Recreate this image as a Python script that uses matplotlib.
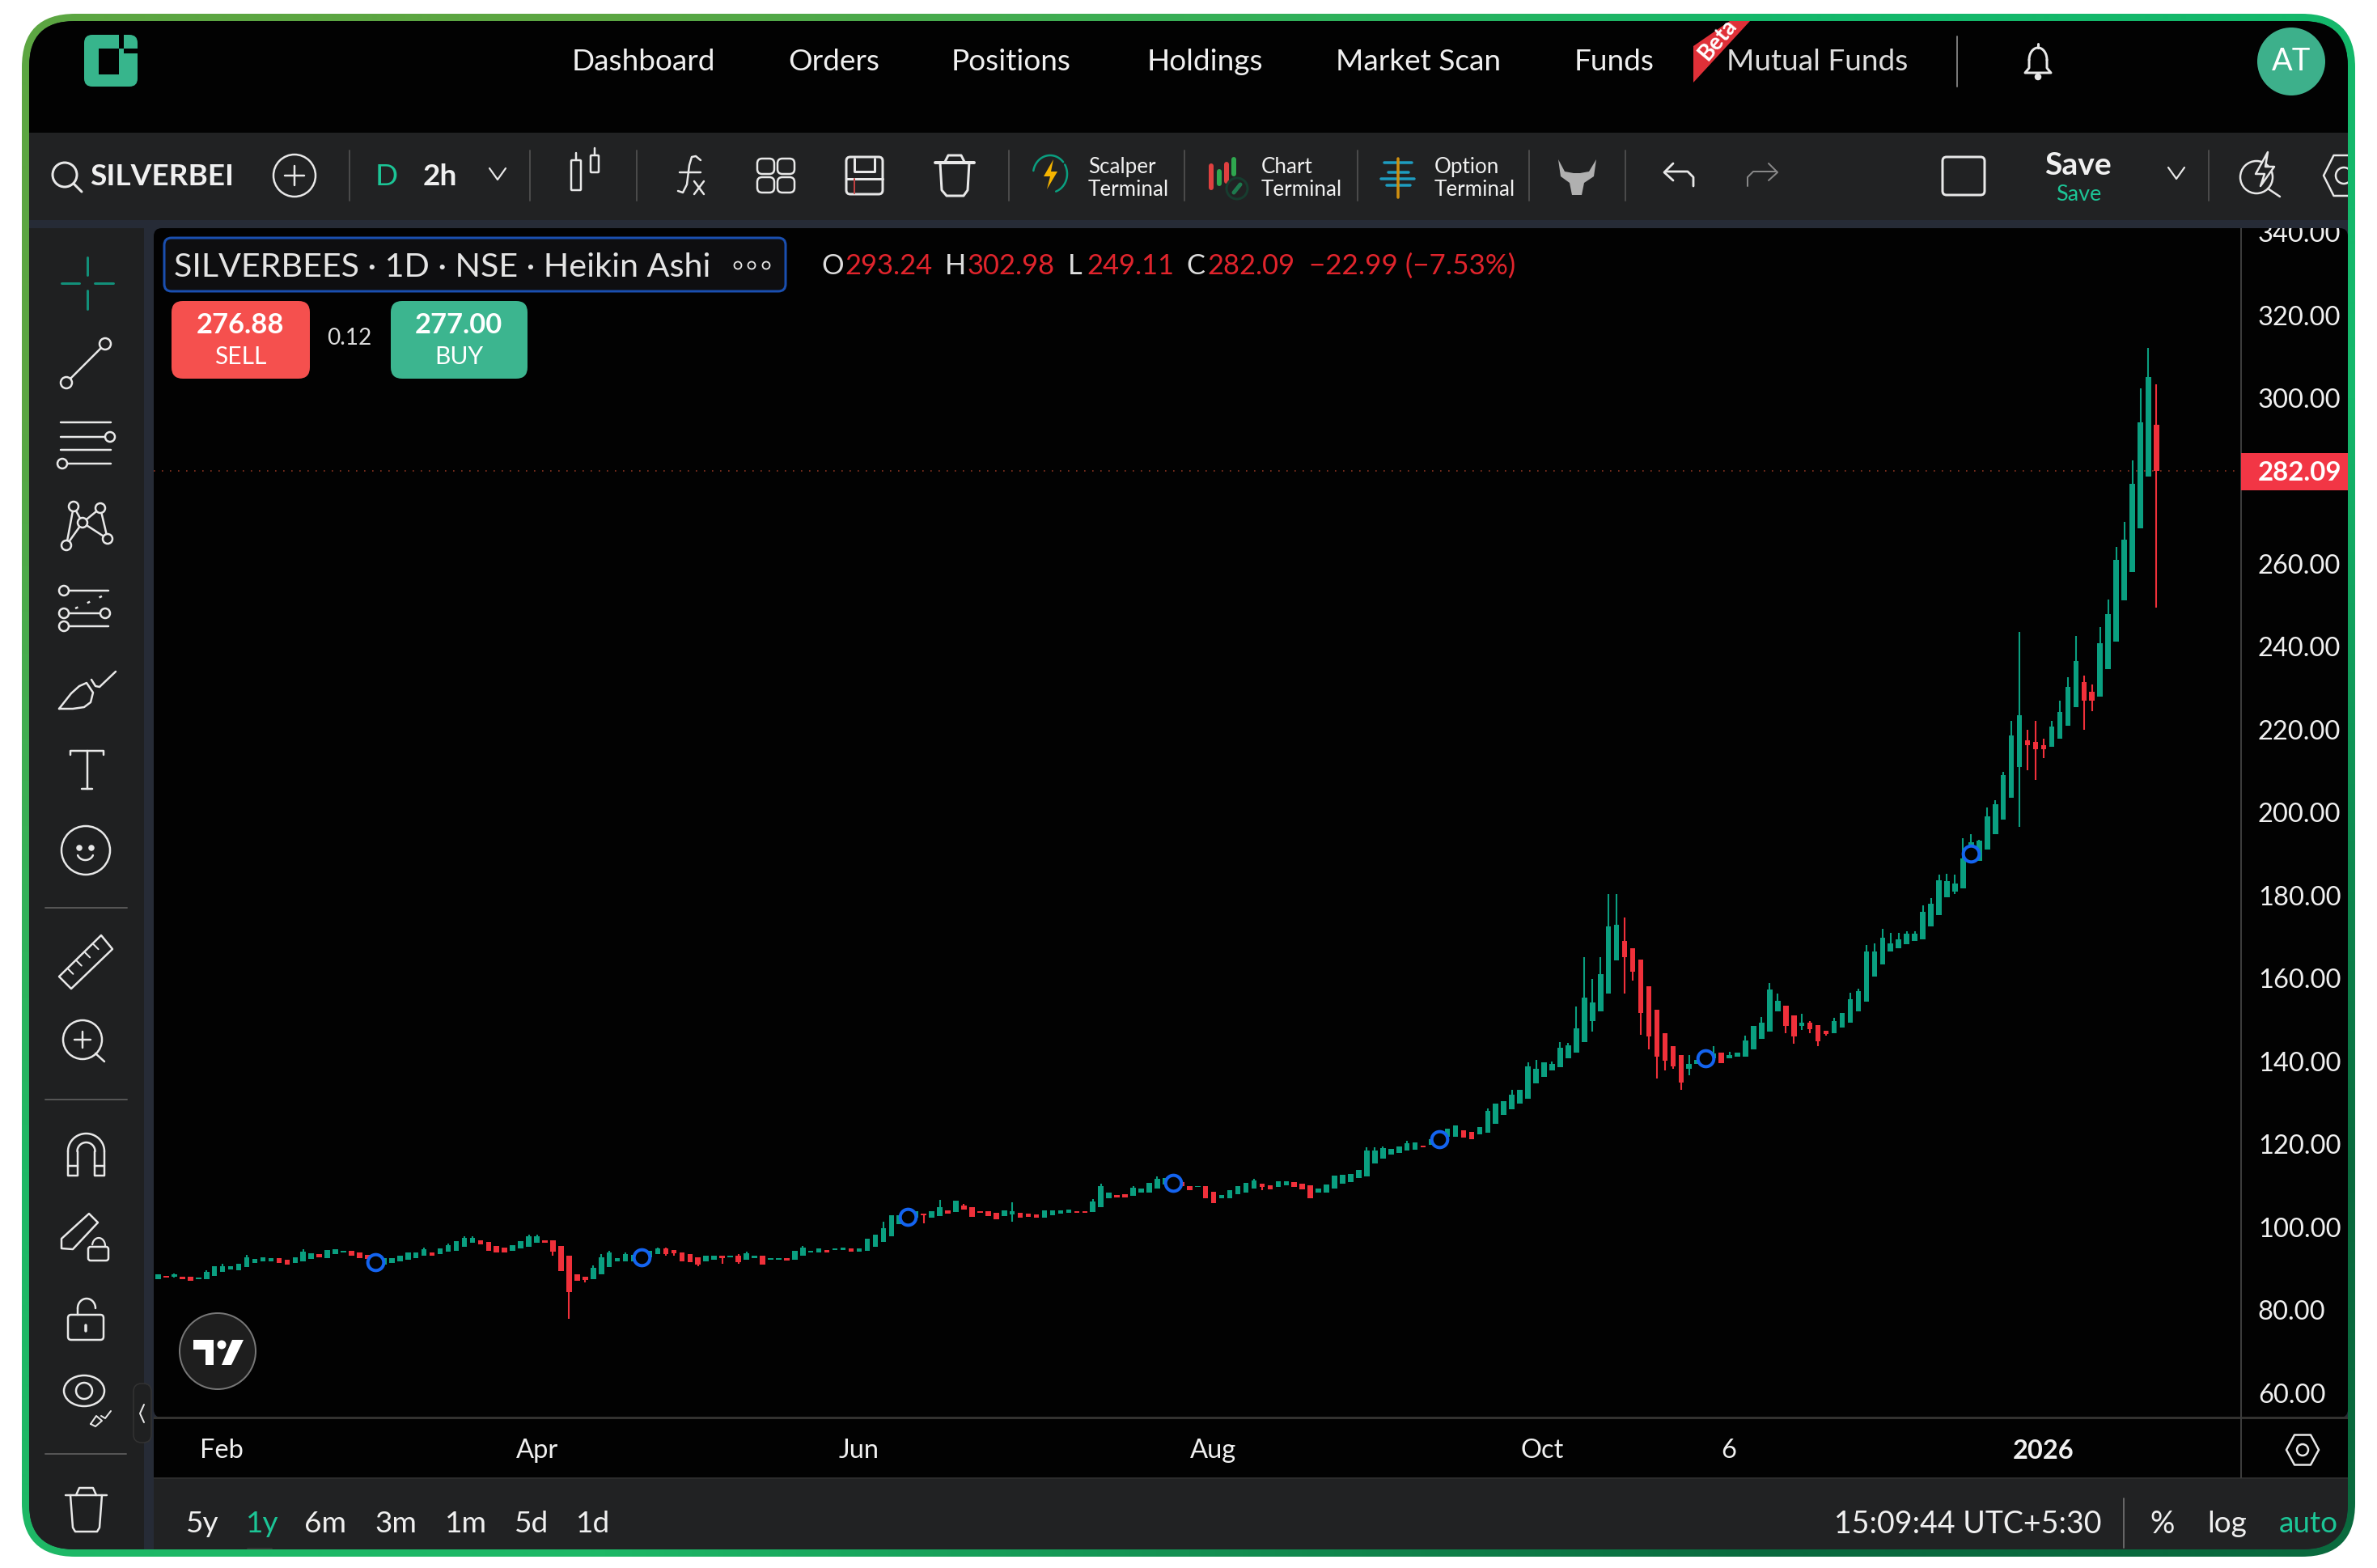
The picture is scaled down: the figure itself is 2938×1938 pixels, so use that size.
#!/usr/bin/env python3
# -*- coding: utf-8 -*-
import numpy as np
import matplotlib
matplotlib.use("Agg")
import matplotlib.pyplot as plt
from matplotlib.patches import FancyBboxPatch, Rectangle, Polygon, Circle, Ellipse
from matplotlib.transforms import ScaledTranslation

plt.rcParams['font.family'] = ['Lato', 'DejaVu Sans']

W, H = 2938, 1938

# daily heikin ashi candles
opens = [
    87.1,88.0,87.8,87.8,87.8,87.1,87.1,88.0,88.9,89.4,
    89.3,90.1,91.0,91.4,91.4,92.2,91.9,91.0,91.4,92.0,
    93.2,92.3,93.2,93.6,93.9,93.5,93.0,92.5,90.6,91.1,
    91.4,91.9,92.3,92.7,93.5,93.2,93.7,94.0,94.9,95.9,
    96.5,96.2,95.2,94.8,94.0,94.5,94.9,95.9,96.5,96.6,
    95.2,92.7,88.3,87.8,87.1,88.4,90.1,91.4,91.4,91.5,
    92.0,92.5,93.2,94.5,94.1,93.5,93.2,92.4,91.4,91.9,
    92.7,92.4,92.8,91.9,92.3,92.7,91.9,91.9,92.2,91.9,
    92.8,93.6,93.6,94.1,94.1,94.1,94.5,93.8,94.0,94.9,
    96.2,97.5,100.5,101.0,102.0,102.9,102.0,102.3,103.8,103.3,
    104.9,104.6,103.6,103.6,103.1,102.3,102.8,103.1,102.9,102.7,
    102.0,102.5,102.9,103.1,103.6,103.6,103.3,104.6,106.7,107.5,
    107.7,107.2,108.0,108.0,108.9,110.0,110.0,110.5,109.6,109.4,
    109.6,108.3,106.7,106.7,107.6,108.0,108.9,110.1,109.8,109.3,
    109.8,110.6,110.2,109.8,108.0,108.0,108.9,110.2,110.6,111.5,
    111.9,115.0,116.3,117.1,117.6,118.1,118.4,119.3,119.5,120.0,
    121.5,121.5,123.1,122.6,122.1,122.5,124.6,126.8,128.1,129.4,
    130.7,134.3,136.0,137.4,138.2,140.4,141.7,144.3,149.5,151.7,
    156.1,164.0,168.7,166.9,164.3,157.8,152.1,146.4,143.3,141.2,
    137.8,139.0,139.5,140.5,141.7,140.5,140.8,140.8,142.6,145.2,
    146.9,151.7,153.2,150.8,148.2,149.1,148.5,147.1,146.5,147.8,
    149.1,151.7,154.0,160.1,163.1,166.1,167.0,167.9,168.7,169.2,
    172.2,175.0,179.3,180.7,181.5,188.0,188.0,190.7,194.5,198.0,
    203.2,210.7,217.1,216.7,215.9,215.5,217.5,220.7,225.1,231.1,
    228.9,227.7,234.3,240.9,250.9,257.8,268.3,280.8,293.24,
]
highs = [
    88.3,88.0,88.5,87.8,87.8,87.6,89.3,90.2,90.9,90.2,
    90.9,93.0,92.0,92.4,92.3,92.2,91.9,92.4,94.3,93.3,
    93.2,94.1,94.3,93.9,93.9,93.5,93.0,92.5,92.2,92.2,
    92.8,93.5,93.6,94.7,93.5,94.5,95.8,96.3,97.4,97.5,
    96.5,96.2,95.2,94.8,95.4,96.3,97.9,97.9,96.5,96.6,
    95.2,92.7,88.3,87.8,90.4,93.2,93.9,92.3,93.5,93.0,
    93.5,94.0,94.8,94.8,94.1,93.5,93.2,92.4,92.8,92.8,
    92.7,92.8,93.2,93.8,92.8,92.7,92.3,92.3,92.2,94.0,
    95.1,94.0,94.5,94.1,94.6,94.7,94.5,94.6,96.8,97.9,
    101.0,102.5,102.5,103.0,103.5,102.9,103.5,106.2,103.8,106.0,
    105.2,104.6,103.6,103.6,103.1,103.8,105.7,103.1,102.9,102.7,
    103.8,103.8,103.8,103.9,103.6,103.6,106.5,110.1,108.1,107.5,
    107.7,109.6,109.0,110.3,111.9,111.5,111.5,110.5,109.6,109.6,
    109.6,108.3,107.5,108.6,109.6,110.3,111.3,110.1,109.8,110.8,
    110.8,110.6,110.2,109.8,109.0,109.9,112.1,112.4,112.6,113.4,
    118.9,118.9,119.2,118.6,119.2,120.5,120.2,119.3,121.0,122.0,
    123.4,124.3,123.1,122.6,123.8,128.3,129.4,130.0,132.9,132.9,
    139.4,140.0,139.4,139.7,144.3,144.1,153.0,164.8,159.6,164.8,
    180.1,180.1,174.3,166.9,164.3,157.8,152.1,146.4,143.3,141.2,
    141.2,140.0,141.0,143.3,141.7,142.0,141.7,145.9,148.3,150.3,
    158.6,156.0,153.2,150.8,151.1,149.5,148.5,147.1,150.1,151.4,
    156.3,157.3,167.7,168.1,171.6,170.7,170.7,171.1,171.1,177.4,
    179.1,184.7,185.0,184.7,193.5,194.4,193.1,200.9,202.6,209.6,
    221.9,243.2,219.6,221.9,217.5,221.9,226.8,232.4,242.4,232.7,
    230.7,244.4,251.1,263.7,269.9,284.6,302.1,311.8,302.98,
]
lows = [
    87.1,87.5,87.5,87.1,86.7,87.1,87.1,88.0,88.9,89.4,
    89.3,90.1,91.0,91.4,91.4,91.0,90.6,91.0,91.4,92.0,
    92.5,92.3,93.2,93.6,92.8,92.3,92.0,90.6,90.6,91.1,
    91.4,91.9,92.3,92.7,92.8,93.2,93.7,94.0,94.9,95.9,
    95.6,94.0,93.6,93.6,94.0,94.5,94.9,95.9,96.0,92.8,
    89.1,77.6,86.7,86.3,87.1,88.4,90.1,91.4,91.4,91.5,
    92.0,92.5,93.2,92.8,92.8,91.5,91.2,90.2,91.4,91.9,
    90.9,92.4,90.8,91.9,92.3,90.6,91.9,91.9,91.7,91.9,
    92.8,93.6,93.6,93.6,94.1,94.1,93.8,93.8,94.0,94.9,
    96.2,97.5,100.5,101.0,102.0,100.7,102.0,102.3,102.9,103.3,
    103.9,102.2,103.2,102.3,101.5,102.3,101.0,102.0,102.1,102.0,
    102.0,102.5,102.9,103.1,103.2,103.1,103.3,104.6,106.7,106.9,
    106.9,107.2,108.0,108.0,108.9,110.0,110.0,109.5,108.7,109.4,
    106.7,105.4,106.7,106.7,107.6,108.0,108.9,108.6,108.8,109.3,
    109.8,109.3,108.8,106.7,108.0,108.0,108.9,110.2,110.6,111.5,
    111.9,115.0,116.3,117.1,117.6,118.1,118.4,119.0,119.5,120.0,
    121.5,121.5,121.3,121.0,122.1,122.5,124.6,126.8,128.1,129.4,
    130.7,134.3,136.0,137.4,138.2,140.4,141.7,144.3,146.9,151.7,
    156.1,164.0,156.1,159.2,146.0,142.6,135.6,137.4,137.9,132.9,
    136.4,139.0,139.5,140.5,139.2,140.5,140.8,140.8,142.6,145.2,
    146.9,151.7,146.5,143.9,147.3,146.4,143.4,145.8,146.5,147.8,
    149.1,151.7,154.0,160.1,163.1,166.1,167.0,167.9,168.7,169.2,
    172.2,175.0,179.3,180.0,181.5,188.0,188.0,190.7,194.5,198.0,
    203.2,196.3,209.9,207.6,212.9,215.5,217.5,220.7,225.1,219.7,
    224.2,227.7,234.3,240.9,250.9,257.8,268.3,280.8,249.11,
]
closes = [
    88.3,87.5,88.3,87.1,86.7,87.6,88.9,90.2,90.2,90.2,
    90.9,92.5,92.0,92.4,92.3,91.0,90.6,92.4,93.8,93.3,
    92.5,94.1,94.3,93.9,92.8,92.3,92.0,90.6,92.2,92.2,
    92.8,93.5,93.6,94.3,92.8,94.5,95.3,96.3,97.1,97.1,
    95.6,94.0,93.6,93.6,95.4,96.3,97.4,97.4,96.0,93.7,
    89.1,84.1,86.7,87.0,89.9,92.5,93.5,92.3,93.2,93.0,
    93.5,94.0,94.5,93.2,93.4,91.5,91.2,90.6,92.8,92.8,
    92.2,92.8,91.2,93.4,92.8,90.6,92.3,92.3,91.7,94.0,
    94.8,94.0,94.5,93.6,94.6,94.7,93.8,94.6,96.8,97.9,
    99.4,102.5,102.5,103.0,103.5,102.6,103.5,104.6,102.9,106.0,
    103.9,102.2,103.2,102.3,101.5,103.8,103.6,102.0,102.1,102.0,
    103.8,103.8,103.8,103.9,103.2,103.1,105.9,109.6,108.1,106.9,
    106.9,109.1,109.0,110.3,111.4,111.5,111.5,109.5,108.7,109.6,
    106.7,105.4,107.5,108.6,109.6,110.3,110.9,109.4,108.8,110.8,
    110.8,109.3,108.8,106.7,109.0,109.9,112.1,112.4,112.6,113.4,
    118.2,118.2,118.7,118.6,119.2,119.9,120.2,119.0,121.0,122.0,
    123.4,124.3,121.3,121.0,123.8,127.7,129.4,130.0,131.6,132.9,
    138.4,137.8,139.4,139.1,143.0,143.5,147.7,155.1,153.8,160.7,
    172.2,172.6,164.8,161.3,151.3,145.6,140.8,139.8,138.4,134.6,
    139.0,140.0,141.0,141.5,139.2,141.2,141.7,144.7,148.3,149.1,
    157.0,154.3,148.2,145.6,149.0,147.5,144.6,146.2,149.5,151.4,
    154.7,156.6,166.1,166.1,169.5,168.2,169.1,170.5,170.5,175.7,
    177.8,183.3,183.1,182.6,188.7,192.5,193.0,198.7,201.8,208.8,
    218.4,223.1,215.9,214.9,215.0,220.5,224.0,230.1,236.2,226.7,
    226.7,240.6,247.6,260.7,265.5,279.0,293.9,304.8,282.09,
]

marker_idx = [27, 60, 93, 126, 159, 192, 225]
marker_price = [91.2, 92.5, 102.2, 110.4, 121.0, 140.5, 189.8]

price_ticks = list(range(60, 341, 20))
time_ticks = [7.9, 47, 87, 130.9, 171.8, 194.9, 234]
time_labels = ["Feb", "Apr", "Jun", "Aug", "Oct", "6", "2026"]
last_close = 282.09

GREEN = "#0A9F80"
RED = "#F0303A"
PANEL = "#212223"
STRIP = "#262B36"
TXT = "#F0F0F0"
ICON = "#E8E8E8"
SEP = "#4A4A4A"

fig = plt.figure(figsize=(W / 100, H / 100), dpi=100, facecolor="white")


def px_axes(zorder):
    a = fig.add_axes([0, 0, 1, 1], zorder=zorder)
    a.set_xlim(0, W)
    a.set_ylim(H, 0)
    a.axis("off")
    return a


bg = px_axes(0)
top = px_axes(2)

# green gradient frame
corners = np.array([[[0x5C, 0xA6, 0x42], [0x14, 0xB8, 0x6B]],
                    [[0x1E, 0xB8, 0x66], [0x0A, 0x6A, 0x3E]]]) / 255
img = bg.imshow(corners, extent=(27, 2911, 1924, 17), interpolation="bilinear", aspect="auto", zorder=1)
outer = FancyBboxPatch((27, 17), 2884, 1907, boxstyle="round,pad=0,rounding_size=66", fc="none", ec="none", transform=bg.transData)
bg.add_patch(outer)
img.set_clip_path(outer)
bg.set_xlim(0, W)
bg.set_ylim(H, 0)

inner_bg = FancyBboxPatch((36, 26), 2866, 1889, boxstyle="round,pad=0,rounding_size=56", fc=STRIP, ec="none", zorder=2)
bg.add_patch(inner_bg)
inner_top = FancyBboxPatch((36, 26), 2866, 1889, boxstyle="round,pad=0,rounding_size=56", fc="none", ec="none")
top.add_patch(inner_top)


def panel(a, clip, x0, y0, x1, y1, color, zorder=3):
    r = Rectangle((x0, y0), x1 - x0, y1 - y0, fc=color, ec="none", zorder=zorder)
    a.add_patch(r)
    r.set_clip_path(clip)
    return r


panel(bg, inner_bg, 36, 282, 178, 1915, "#1F2021")
bg.add_patch(FancyBboxPatch((190, 282), 2712, 1470, boxstyle="round,pad=0,rounding_size=10", fc="#020202", ec="none", zorder=3))
panel(bg, inner_bg, 190, 1753, 2902, 1827, "#020202")
panel(bg, inner_bg, 190, 1827, 2902, 1915, PANEL)
panel(bg, inner_bg, 190, 1751, 2902, 1754, "#333230", zorder=4)
panel(bg, inner_bg, 190, 1826, 2902, 1828, "#2C2C2C", zorder=4)
panel(bg, inner_bg, 2769, 282, 2771, 1827, "#3C3C3C", zorder=4)

panel(top, inner_top, 36, 26, 2902, 164, "#020202")
panel(top, inner_top, 36, 164, 2902, 272, PANEL)
panel(top, inner_top, 36, 272, 2902, 282, STRIP)

# the chart itself
ax = fig.add_axes([190 / W, 1 - 1753 / H, (2770 - 190) / W, (1753 - 282) / H], zorder=1)
ax.patch.set_alpha(0)
for s in ax.spines.values():
    s.set_visible(False)

idx = np.arange(len(opens))
op = np.array(opens)
cl = np.array(closes)
colors = [RED if c < o else GREEN for o, c in zip(op, cl)]
ax.vlines(idx, lows, highs, colors=colors, linewidth=1.5, zorder=2)
ax.bar(idx, np.abs(cl - op), bottom=np.minimum(op, cl), width=0.66, color=colors, linewidth=0, zorder=3)
ax.scatter(marker_idx, marker_price, s=200, facecolor="#020202", edgecolor="#1464F0", linewidth=2.9, zorder=4)
ax.axhline(last_close, color="#8A3320", lw=1.2, ls=(0, (1, 5)), zorder=1)

ax.set_xlim(-0.55, 258.5)
ax.set_ylim(53.56, 340.7)
ax.yaxis.tick_right()
ax.set_yticks(price_ticks)
ax.set_yticklabels([f"{v:.2f}" for v in price_ticks], fontsize=23.5, color=TXT, ha="left")
ax.tick_params(axis="y", length=0, pad=15)
ax.set_xticks(time_ticks)
ax.set_xticklabels(time_labels, fontsize=23.5, color=TXT, va="center")
ax.tick_params(axis="x", length=0, pad=29)
ax.get_xticklabels()[-1].set_fontweight("bold")
nudge = ScaledTranslation(0, -1.5 / 100, fig.dpi_scale_trans)
for lab in ax.get_yticklabels():
    lab.set_transform(lab.get_transform() + nudge)


# helpers for the app chrome, all in image pixels
def T(x, y, s, px, color=TXT, ha="center", weight="normal", a=top, **kw):
    return a.text(x, y + 3, s, fontsize=px * 0.72, color=color, ha=ha, va="center", fontweight=weight, zorder=10, **kw)


def L(xs, ys, color=ICON, lw=2.5, a=top, **kw):
    a.plot(xs, ys, color=color, lw=lw * 0.72, solid_capstyle="round", solid_joinstyle="round", zorder=9, **kw)


def C(x, y, r, ec=ICON, fc="none", lw=2.5, a=top):
    c = Circle((x, y), r, fc=fc, ec=ec, lw=lw * 0.72, zorder=9)
    a.add_patch(c)
    return c


def E(x, y, w, h, ec=ICON, fc="none", lw=2.5):
    top.add_patch(Ellipse((x, y), w, h, fc=fc, ec=ec, lw=lw * 0.72, zorder=9))


def ARC(cx, cy, rx, ry, a0, a1, color=ICON, lw=2.5):
    t = np.radians(np.linspace(a0, a1, 40))
    L(cx + rx * np.cos(t), cy - ry * np.sin(t), color=color, lw=lw)


def RR(x0, y0, x1, y1, r=6, ec=ICON, fc="none", lw=2.5, z=9):
    top.add_patch(FancyBboxPatch((x0, y0), x1 - x0, y1 - y0, boxstyle=f"round,pad=0,rounding_size={r}", fc=fc, ec=ec, lw=lw * 0.72, zorder=z))


def P(pts, fc="none", ec="none", lw=0, z=9):
    p = Polygon(pts, closed=True, fc=fc, ec=ec, lw=lw * 0.72, zorder=z, joinstyle="round")
    top.add_patch(p)
    return p


def CHEV(x, y, w=10, h=7, color=ICON):
    L([x - w, x, x + w], [y - h, y + h, y - h], color=color, lw=2.2)


def HEX(cx, cy, w, h, lw=2.5):
    return P([(cx - w / 2, cy), (cx - w / 4, cy - h / 2), (cx + w / 4, cy - h / 2), (cx + w / 2, cy), (cx + w / 4, cy + h / 2), (cx - w / 4, cy + h / 2)], ec=ICON, lw=lw)


# top navigation
RR(104, 43, 170, 107, r=10, fc="#37B58C", ec="none", z=8)
P([(122, 60), (147, 60), (147, 92), (122, 92)], fc="#020202")
P([(147, 43), (153, 43), (153, 66), (170, 66), (170, 60), (147, 60)], fc="#020202")
for label, x0, x1 in [("Dashboard", 705, 885), ("Orders", 975, 1087), ("Positions", 1175, 1325),
                      ("Holdings", 1415, 1563), ("Market Scan", 1652, 1855), ("Funds", 1945, 2045)]:
    T((x0 + x1) / 2, 73, label, 37)
T(2246, 73, "Mutual Funds", 37, color="#DDDDDD")
P([(2138, 26), (2163, 26), (2093, 102), (2093, 57)], fc="#E03038")
T(2123, 46, "Beta", 28, weight="bold", color="white", rotation=50, rotation_mode="anchor")
L([2419, 2419], [45, 107], color="#777777", lw=2)
ARC(2519, 74, 11, 15, 0, 180, lw=3)
L([2508, 2508, 2503, 2535, 2530, 2530], [74, 84, 90, 90, 84, 74], lw=3)
L([2519, 2519], [54, 59], lw=3)
C(2519, 95, 3, fc=ICON)
C(2832, 76, 42, ec="none", fc="#3DB08B")
T(2832, 73, "AT", 38, color="white")

# toolbar
C(80, 216, 15, lw=3)
L([91, 101], [227, 237], lw=3)
T(111, 215, "SILVERBEI", 37, ha="left", weight="bold")
C(364, 217, 26)
L([352, 376], [217, 217])
L([364, 364], [205, 229])
for x in [432, 655, 787, 1247, 1464, 1678, 1890, 2009, 2730]:
    L([x, x], [186, 248], color=SEP, lw=2)
T(478, 215, "D", 37, color="#1CC596")
T(544, 215, "2h", 37, weight="bold")
CHEV(615, 215)
# candle type icon
RR(706, 198, 718, 235, r=1)
L([712, 712], [189, 198])
RR(730, 192, 740, 213, r=1)
L([735, 735], [183, 192])
# fx icon
L([866, 860, 855, 852, 849, 844, 838], [198, 193, 194, 204, 228, 238, 236], lw=2.5)
L([840, 866], [213, 213], lw=2.5)
L([858, 870], [224, 240], lw=2.5)
L([870, 858], [224, 240], lw=2.5)
# layout grid icon
for x0 in [936, 961]:
    for y0 in [196, 219]:
        RR(x0, y0, x0 + 21, y0 + 19, r=6)
# save icon
RR(1046, 194, 1091, 240, r=5, lw=3)
L([1056, 1056, 1081, 1081], [196, 212, 212, 196], lw=3)
L([1046, 1091], [221, 221], lw=3)
L([1056, 1056], [221, 239], color="#C04040", lw=2)
# trash icon
L([1156, 1204], [201, 201], lw=4)
L([1168, 1172, 1188, 1192], [200, 192, 192, 200], lw=3)
L([1162, 1164, 1170, 1191, 1196, 1198], [201, 235, 242, 242, 235, 201], lw=3)
# scalper icon
ARC(1298, 215, 21, 23, 40, 170, color="#0A9F80", lw=2.5)
ARC(1298, 215, 21, 23, -70, 30, color="#0A9F80", lw=2.5)
P([(1302, 197), (1290, 218), (1298, 218), (1294, 234), (1307, 212), (1299, 212)], fc="#F5B400")
T(1345, 203, "Scalper", 26, ha="left")
T(1345, 231, "Terminal", 26, ha="left")
# chart terminal icon
for x, y0, y1, c in [(1497, 205, 232, "#E04040"), (1507, 212, 227, "#2FA84F"), (1516, 203, 224, "#E04040"), (1525, 197, 215, "#2FA84F")]:
    L([x, x], [y0, y1], color=c, lw=6)
C(1529, 233, 13, ec="#173D2F", lw=3)
L([1525, 1533], [238, 228], color="#1E7A4E", lw=5)
T(1559, 203, "Chart", 26, ha="left")
T(1559, 231, "Terminal", 26, ha="left")
# option terminal icon
for y, x0, x1 in [(201, 1711, 1745), (213, 1716, 1741), (221, 1707, 1748), (229, 1714, 1743)]:
    L([x0, x1], [y, y], color="#1E9CC0", lw=3.5)
L([1728, 1728], [196, 244], color="#D09010", lw=3.5)
T(1773, 203, "Option", 26, ha="left")
T(1773, 231, "Terminal", 26, ha="left")
# bull icon
P([(1926, 197), (1934, 212), (1945, 214), (1953, 214), (1964, 212), (1973, 197), (1970, 218), (1958, 226), (1955, 241), (1943, 241), (1940, 226), (1929, 218)], fc="#B0B0B0")
# undo, redo
L([2093, 2093, 2086, 2059], [230, 219, 212, 212], lw=2.8)
L([2068, 2057, 2068], [202, 213, 223], lw=2.8)
L([2160, 2160, 2167, 2196], [230, 219, 212, 212], color="#888888", lw=2)
L([2186, 2197, 2186], [202, 213, 223], color="#888888", lw=2)
RR(2401, 194, 2453, 241, r=5, lw=3)
T(2569, 201, "Save", 39, weight="bold")
T(2569, 237, "Save", 27, color="#1CC596")
CHEV(2690, 214)
C(2789, 219, 20)
L([2803, 2818], [233, 243])
P([(2803, 188), (2788, 215), (2799, 215), (2794, 230), (2811, 206), (2800, 206)], ec=ICON, fc=PANEL, lw=2.5)
# settings hexagon is cut off by the frame
HEX(2897, 217, 50, 50).set_clip_path(inner_top)
C(2897, 217, 10).set_clip_path(inner_top)

# chart legend
RR(203, 294, 971, 360, r=9, ec="#1A4FB0", fc="#0E0E10", lw=3, z=8)
T(215, 327, "SILVERBEES · 1D · NSE · Heikin Ashi", 41.2, ha="left", color="#E4E4E4")
for x in [912, 929, 947]:
    C(x, 328, 4.5, lw=1.8)
OHLC_RED = "#E0242C"
for letter, lx, val, vx in [("O", 1015, "293.24", 1044), ("H", 1168, "302.98", 1196), ("L", 1320, "249.11", 1343), ("C", 1466, "282.09", 1492)]:
    T(lx, 326, letter, 34.5, ha="left", color="#DDDDDD")
    T(vx, 326, val, 34.5, ha="left", color=OHLC_RED)
T(1618, 326, "−22.99 (−7.53%)", 35, ha="left", color=OHLC_RED)
RR(212, 372, 383, 468, r=14, fc="#F5504E", ec="none", z=8)
T(297, 399, "276.88", 34.5, color="white", weight="bold")
T(297, 438, "SELL", 30, color="white")
T(432, 415, "0.12", 28, color="#DDDDDD")
RR(483, 372, 652, 468, r=14, fc="#3CB58F", ec="none", z=8)
T(567, 399, "277.00", 34.5, color="white", weight="bold")
T(567, 438, "BUY", 30, color="white")

# price tag
P([(2770, 560), (2902, 560), (2902, 606), (2770, 606)], fc="#F23645", z=8)
T(2843, 581, "282.09", 33, color="white", weight="bold")

# left drawing tools
CG = "#12907A"
L([76, 98], [350, 350], color=CG, lw=3)
L([117, 140], [350, 350], color=CG, lw=3)
L([108, 108], [318, 340], color=CG, lw=3)
L([108, 108], [359, 382], color=CG, lw=3)
L([82, 130], [473, 425])
C(82, 473, 7, fc="#1F2021")
C(130, 425, 7, fc="#1F2021")
for y in [522, 540, 556, 573]:
    L([75, 137], [y, y])
C(136, 540, 6, fc="#1F2021")
C(77, 573, 6, fc="#1F2021")
nodes = {"a": (91, 626), "b": (124, 628), "c": (102, 646), "d": (82, 674), "e": (133, 666)}
for u, v in ["ac", "ad", "dc", "cb", "be", "ce"]:
    L([nodes[u][0], nodes[v][0]], [nodes[u][1], nodes[v][1]])
for n in nodes.values():
    C(n[0], n[1], 6, fc="#1F2021")
for y, c2 in [(730, False), (758, True), (774, False)]:
    L([79, 134], [y, y])
    C(79, y, 6, fc="#1F2021")
    if c2:
        C(130, y, 6, fc="#1F2021")
L([93, 128], [752, 736], lw=2.5, ls=(0, (1.5, 5)))
L([73, 88, 98, 107, 115, 112, 104, 90, 73], [876, 857, 848, 844, 856, 868, 874, 876, 876])
L([113, 118, 123, 143], [840, 848, 849, 830])
L([87, 87, 128, 128], [933, 928, 928, 933])
L([108, 108], [928, 975])
L([101, 114], [975, 975])
C(106, 1051, 30)
C(98, 1048, 2.5, fc=ICON)
C(113, 1048, 2.5, fc=ICON)
ARC(105.5, 1054, 10, 9, 200, 340)

L([56, 157], [1122, 1122], color="#555555", lw=2)
P([(73, 1207), (125, 1156), (139, 1173), (88, 1222)], ec=ICON, lw=2.5)
for i in range(1, 5):
    fx = i / 5
    xa, ya = 73 + 52 * fx, 1207 - 51 * fx
    L([xa, xa + 7], [ya, ya + 7], lw=2)
C(102, 1285, 24)
L([118, 129], [1302, 1312])
L([92, 112], [1285, 1285])
L([102, 102], [1275, 1295])
L([56, 157], [1359, 1359], color="#555555", lw=2)
ARC(106.5, 1423, 22.5, 22, 0, 180)
ARC(106.5, 1423, 11, 11, 0, 180)
L([84, 84, 96, 96], [1423, 1453, 1453, 1423])
L([129, 129, 117, 117], [1423, 1453, 1453, 1423])
L([84, 96], [1441, 1441])
L([117, 129], [1441, 1441])
P([(76, 1531), (110, 1500), (121, 1511), (90, 1544), (76, 1543)], ec=ICON, lw=2.5)
RR(109, 1541, 134, 1558, r=3)
ARC(122, 1540, 8, 10, 0, 170, lw=2.2)
RR(84, 1625, 128, 1656, r=4)
ARC(107, 1617, 11, 12, 0, 180)
L([96, 96], [1617, 1625])
L([106, 106], [1638, 1645], lw=3.5)
E(104, 1719, 50, 38)
C(104, 1719, 10)
L([112, 119, 126, 118, 112], [1760, 1750, 1756, 1763, 1760], lw=2)
L([125, 130, 137], [1750, 1753, 1744], lw=2)
L([56, 156], [1797, 1797], color="#555555", lw=2)
RR(165, 1710, 187, 1783, r=10, ec="#333333", fc="#1F2021", lw=1.5)
L([178, 173, 178], [1736, 1747, 1758], lw=2)
# bottom left trash
L([81, 132], [1848, 1848], lw=2.5)
L([94, 98, 115, 119], [1848, 1839, 1839, 1848], lw=2.5)
L([87, 90, 93, 120, 123, 126], [1848, 1888, 1893, 1893, 1888, 1848], lw=2.5)

# tradingview badge
C(269, 1670, 47, ec="#777777", fc="#1E1E1E", lw=2)
P([(239, 1656), (264, 1656), (264, 1687), (254, 1687), (254, 1668), (239, 1668)], fc="white")
C(274, 1662, 5.5, ec="none", fc="white")
P([(287, 1656), (301, 1656), (286, 1687), (274, 1687)], fc="white")

# bottom bar
for label, x in [("5y", 250), ("6m", 402), ("3m", 489), ("1m", 576), ("5d", 657), ("1d", 733)]:
    T(x, 1881, label, 37)
T(324, 1881, "1y", 37, color="#1CC596")
L([306, 336], [1914, 1914], color="#333333", lw=2)
T(2267, 1881, "15:09:44 UTC+5:30", 37.5, ha="left")
L([2625, 2625], [1852, 1913], color="#666666", lw=2)
T(2673, 1881, "%", 38)
T(2753, 1881, "log", 37)
T(2853, 1881, "auto", 37, color="#1CC596")
HEX(2846, 1792, 40, 37)
C(2846, 1792, 7)

fig.savefig("out.png", dpi=100, facecolor="white")
